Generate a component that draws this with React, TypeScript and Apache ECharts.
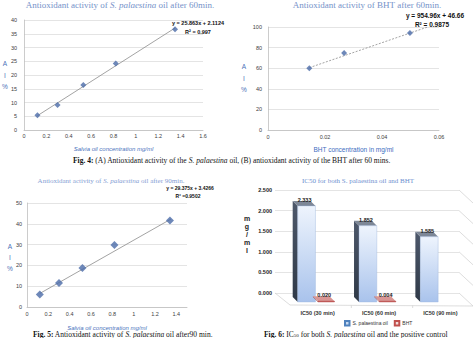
import React, { useEffect, useRef } from "react";
import * as echarts from "echarts";

// Fig 4 (A): S. palaestina oil, 60 min
const xA = [0.12, 0.3, 0.53, 0.82, 1.35];
const yA = [5.4, 9.1, 16.4, 24.2, 36.6];
const trendA = [[0.12, 5.2], [1.35, 37.1]];
// Fig 4 (B): BHT, 60 min
const xB = [0.0145, 0.0267, 0.0498];
const yB = [60.0, 74.8, 94.2];
const trendB = [[0.0145, 60.5], [0.056, 100]];
// Fig 5: S. palaestina oil, 90 min
const xC = [0.12, 0.3, 0.52, 0.82, 1.34];
const yC = [6.0, 11.5, 18.8, 29.8, 41.6];
const trendC = [[0.12, 6.5], [1.35, 42.3]];
// Fig 6: IC50
const categoriesD = ["IC50 (30 min)", "IC50 (60 min)", "IC50 (90 min)"];
const oilIC50 = [2.333, 1.852, 1.585];
const bhtIC50 = [0.02, 0.004];
const yTicksD = [0, 0.5, 1, 1.5, 2, 2.5];

const SANS = "Liberation Sans";
const SERIF = "Liberation Serif";
const FY = 9; // front plane drop of 3D bars
const D = 5; // bar depth

function bar3D(leftF: number, rightF: number, colors: any) {
  return (params: any, api: any) => {
    const i = api.value(0);
    const v = api.value(1);
    const base = api.coord([i, 0]);
    const tip = api.coord([i, v]);
    const bw = api.size([1, 0])[0];
    const cx = base[0];
    const L = cx + leftF * bw;
    const R = cx + rightF * bw;
    const yB = base[1] + FY;
    const yT = Math.min(tip[1] + FY, yB - 0.8);
    return {
      type: "group",
      children: [
        {
          type: "polygon",
          shape: { points: [[L, yT], [L, yB], [L - D, yB - D], [L - D, yT - D]] },
          style: { fill: colors.side },
        },
        {
          type: "polygon",
          shape: { points: [[L, yT], [R, yT], [R - D, yT - D], [L - D, yT - D]] },
          style: { fill: colors.top },
        },
        {
          type: "rect",
          shape: { x: L, y: yT, width: R - L, height: yB - yT },
          style: { fill: colors.front, stroke: colors.stroke, lineWidth: 0.4 },
        },
        {
          type: "text",
          x: (L + R) / 2 - 2,
          y: yT - D + 2,
          style: {
            text: v.toFixed(3),
            fontSize: 5.5,
            fontWeight: "bold",
            fontFamily: SANS,
            fill: "#222",
            align: "center",
            verticalAlign: "bottom",
          },
        },
      ],
    };
  };
}

function wallsRender(params: any, api: any) {
  const v = api.value(1);
  const cs = params.coordSys;
  const p = api.coord([0, v]);
  const xr = cs.x + cs.width;
  const xl = cs.x;
  const stroke = { stroke: "#cfcfcf", lineWidth: 0.7 };
  const children: any[] = [
    { type: "line", shape: { x1: xr, y1: p[1], x2: xr + 14, y2: p[1] + 13 }, style: stroke },
  ];
  if (v === 0) {
    const bw = cs.width / categoriesD.length;
    children.push({ type: "line", shape: { x1: xl, y1: p[1], x2: xl + 15, y2: p[1] + 12 }, style: stroke });
    children.push({ type: "line", shape: { x1: xl + 15, y1: p[1] + 12, x2: xr + 14, y2: p[1] + 13 }, style: stroke });
    for (let k = 1; k < categoriesD.length; k++) {
      const x = xl + k * bw + 15;
      children.push({ type: "line", shape: { x1: x, y1: p[1] + 12.5, x2: x, y2: p[1] + 15 }, style: stroke });
    }
  }
  return { type: "group", children };
}

function valueAxisStyle(fontSize: number) {
  return {
    axisLine: { show: true, lineStyle: { color: "#bfbfbf", width: 0.8 } },
    axisTick: { show: false },
    axisLabel: { fontSize, color: "#404040", fontFamily: SANS, margin: 5 },
    splitLine: { show: false },
  };
}

function txt(x: number, y: number, text: string, s: any) {
  return {
    type: "text",
    x,
    y,
    style: { text, align: "center", verticalAlign: "middle", ...s },
  };
}

export default function App() {
  const ref = useRef<HTMLDivElement>(null);
  useEffect(() => {
    if (!ref.current) return;
    const chart = echarts.init(ref.current, undefined, { renderer: "svg" });
    const ySplit = { show: true, lineStyle: { color: "#d9d9d9", width: 0.7 } };
    const titleStyle = (size: number, color: string) => ({
      fontFamily: SERIF,
      fontSize: size,
      fill: color,
      rich: { i: { fontStyle: "italic", fontFamily: SERIF, fontSize: size, fill: color } },
    });
    const CS = 7.5;
    const capStyle = {
      fontFamily: SERIF,
      fontSize: CS,
      fill: "#111",
      align: "left",
      rich: {
        b: { fontWeight: "bold", fontFamily: SERIF, fontSize: CS, fill: "#111" },
        i: { fontStyle: "italic", fontFamily: SERIF, fontSize: CS, fill: "#111" },
        s: { fontFamily: SERIF, fontSize: 5, fill: "#111", verticalAlign: "bottom" },
      },
    };
    const eqStyle = (size: number) => ({ fontFamily: SANS, fontSize: size, fontWeight: "bold", fill: "#111" });
    const yNameStyle = { fontFamily: SANS, fontSize: 6.5, fill: "#4a6fb8", lineHeight: 11.5 };

    chart.setOption({
      animation: false,
      backgroundColor: "#ffffff",
      grid: [
        { left: 24, top: 20, width: 179, height: 110 },
        { left: 268, top: 27, width: 171, height: 103 },
        { left: 27, top: 203, width: 160, height: 104 },
        { left: 275, top: 190, width: 184, height: 103 },
      ],
      xAxis: [
        {
          type: "value", gridIndex: 0, min: 0, max: 1.6, interval: 0.2,
          ...valueAxisStyle(5.5),
          axisLabel: { fontSize: 5.5, color: "#404040", fontFamily: SANS, margin: 3 },
          name: "Salvia oil concentration mg/ml", nameLocation: "middle", nameGap: 16,
          nameTextStyle: { fontSize: 6, fontStyle: "italic", color: "#4a73bd", fontFamily: SANS },
        },
        {
          type: "value", gridIndex: 1, min: 0, max: 0.06, interval: 0.02,
          ...valueAxisStyle(5.5),
          axisLabel: { fontSize: 5.5, color: "#404040", fontFamily: SANS, margin: 4 },
          name: "BHT concentration in mg/ml", nameLocation: "middle", nameGap: 16,
          nameTextStyle: { fontSize: 6.5, color: "#3d6cc0", fontFamily: SANS },
        },
        {
          type: "value", gridIndex: 2, min: 0, max: 1.5, interval: 0.2,
          ...valueAxisStyle(5.5),
          axisLabel: { fontSize: 5.5, color: "#404040", fontFamily: SANS, margin: 4, showMaxLabel: false },
          name: "Salvia oil concentration mg/ml", nameLocation: "middle", nameGap: 18,
          nameTextStyle: { fontSize: 6, fontStyle: "italic", color: "#4a73bd", fontFamily: SANS },
        },
        {
          type: "category", gridIndex: 3, data: categoriesD,
          axisLine: { show: false }, axisTick: { show: false },
          axisLabel: {
            fontSize: 5.5, fontWeight: "bold", color: "#333", fontFamily: SANS,
            margin: 17, padding: [0, 0, 0, 24],
          },
        },
      ],
      yAxis: [
        {
          type: "value", gridIndex: 0, min: 0, max: 40, interval: 5,
          ...valueAxisStyle(5.5), splitLine: ySplit,
          axisLabel: { fontSize: 5.5, color: "#404040", fontFamily: SANS, margin: 7 },
        },
        {
          type: "value", gridIndex: 1, min: 0, max: 100, interval: 20,
          ...valueAxisStyle(5.5), splitLine: ySplit,
          axisLabel: { fontSize: 5.5, color: "#404040", fontFamily: SANS, margin: 6 },
        },
        {
          type: "value", gridIndex: 2, min: 0, max: 50, interval: 10,
          ...valueAxisStyle(5.5), splitLine: ySplit,
          axisLabel: { fontSize: 5.5, color: "#404040", fontFamily: SANS, margin: 5 },
        },
        {
          type: "value", gridIndex: 3, min: 0, max: 2.5, interval: 0.5,
          axisLine: { show: false }, axisTick: { show: false }, splitLine: ySplit,
          axisLabel: {
            fontSize: 5.5, fontWeight: "bold", color: "#222", fontFamily: SANS, margin: 3,
            formatter: (v: number) => v.toFixed(3),
          },
        },
      ],
      legend: {
        data: [
          { name: "S. palaestina oil", icon: "rect" },
          { name: "BHT", icon: "rect" },
        ],
        left: 344, top: 320, itemWidth: 4.5, itemHeight: 4.5, itemGap: 6, padding: 0,
        textStyle: { fontSize: 5, color: "#333", fontFamily: SANS, padding: [0, 0, 0, -2] },
      },
      series: [
        {
          type: "line", xAxisIndex: 0, yAxisIndex: 0, data: trendA, symbol: "none",
          lineStyle: { color: "#8c8c8c", width: 0.8 }, silent: true, z: 2,
        },
        {
          type: "scatter", xAxisIndex: 0, yAxisIndex: 0, symbol: "diamond", symbolSize: 6,
          data: xA.map((x, i) => [x, yA[i]]), itemStyle: { color: "#4a6aa8" }, z: 3,
        },
        {
          type: "line", xAxisIndex: 1, yAxisIndex: 1, data: trendB, symbol: "none",
          lineStyle: { color: "#8c8c8c", width: 0.8, type: [2, 1.5] }, silent: true, z: 2,
        },
        {
          type: "scatter", xAxisIndex: 1, yAxisIndex: 1, symbol: "diamond", symbolSize: 6,
          data: xB.map((x, i) => [x, yB[i]]), itemStyle: { color: "#4a6aa8" }, z: 3,
        },
        {
          type: "line", xAxisIndex: 2, yAxisIndex: 2, data: trendC, symbol: "none",
          lineStyle: { color: "#8c8c8c", width: 0.8 }, silent: true, z: 2,
        },
        {
          type: "scatter", xAxisIndex: 2, yAxisIndex: 2, symbol: "diamond", symbolSize: 8,
          data: xC.map((x, i) => [x, yC[i]]), itemStyle: { color: "#4a6aa8" }, z: 3,
        },
        {
          type: "custom", name: "walls", xAxisIndex: 3, yAxisIndex: 3, silent: true,
          data: yTicksD.map((v) => [0, v]), renderItem: wallsRender, clip: false, z: 1,
        },
        {
          type: "custom", name: "S. palaestina oil", xAxisIndex: 3, yAxisIndex: 3, clip: false, z: 3,
          itemStyle: { color: "#c6d9f1", borderColor: "#4f81bd", borderWidth: 0.6 },
          data: oilIC50.map((v, i) => [i, v]),
          renderItem: bar3D(-0.13, 0.16, {
            side: new echarts.graphic.LinearGradient(0, 0, 0, 1, [
              { offset: 0, color: "#4d586b" },
              { offset: 1, color: "#2f3947" },
            ]),
            top: "#7d8797",
            front: new echarts.graphic.LinearGradient(0, 0, 0, 1, [
              { offset: 0, color: "#eef4fd" },
              { offset: 1, color: "#a9c3ec" },
            ]),
            stroke: "#9db6df",
          }),
        },
        {
          type: "custom", name: "BHT", xAxisIndex: 3, yAxisIndex: 3, clip: false, z: 3,
          itemStyle: { color: "#f2dcdb", borderColor: "#c0504d", borderWidth: 0.6 },
          data: bhtIC50.map((v, i) => [i, v]),
          renderItem: bar3D(0.2, 0.47, {
            side: "#9b4a48",
            top: "#d99694",
            front: "#c0504d",
            stroke: "#b04542",
          }),
        },
      ],
      graphic: [
        txt(120, 5, "Antioxidant activity of {i|S. palaestina} oil after 60min.", titleStyle(9, "#7592c9")),
        txt(367, 5, "Antioxidant activity of BHT after 60min.", titleStyle(9, "#7592c9")),
        txt(111, 181, "Antioxidant activity of {i|S. palaestina} oil after 90min.", titleStyle(7, "#86a0d4")),
        txt(358, 181, "IC50 for both S. palaestina oil and BHT", titleStyle(7, "#6d8fcf")),
        txt(198, 23, "y = 25.863x + 2.1124", eqStyle(5.5)),
        txt(198, 32, "R² = 0.997", eqStyle(5.5)),
        txt(435, 15, "y = 954.96x + 46.66", eqStyle(6.5)),
        txt(432, 24, "R² = 0.9875", eqStyle(6.5)),
        txt(190, 188, "y = 29.375x + 3.4266", eqStyle(5)),
        txt(188, 196, "R² =0.9502", eqStyle(5)),
        txt(5, 75, "A\nI\n%", yNameStyle),
        txt(244, 78, "A\nI\n%", yNameStyle),
        txt(10, 257, "A\nI\n%", { ...yNameStyle, lineHeight: 11 }),
        txt(247, 234, "m\ng\n/\nm\nl", { fontFamily: SANS, fontSize: 7, fontWeight: "bold", fill: "#222", lineHeight: 8 }),
        {
          type: "text", x: 73, y: 160,
          style: { text: "{b|Fig. 4:} (A) Antioxidant activity of the {i|S. palaestina} oil, (B) antioxidant activity of the BHT after 60 mins.", verticalAlign: "middle", ...capStyle },
        },
        {
          type: "text", x: 33, y: 334,
          style: { text: "{b|Fig. 5:} Antioxidant activity of {i|S. palaestina} oil after90 min.", verticalAlign: "middle", ...capStyle },
        },
        {
          type: "text", x: 264, y: 334,
          style: { text: "{b|Fig. 6:} IC{s|50} for both {i|S. palaestina} oil and the positive control", verticalAlign: "middle", ...capStyle },
        },
      ],
    });
    return () => chart.dispose();
  }, []);
  return (
    <div
      ref={ref}
      style={{ position: "fixed", left: 0, top: 0, width: 474, height: 338, background: "#fff" }}
    />
  );
}
